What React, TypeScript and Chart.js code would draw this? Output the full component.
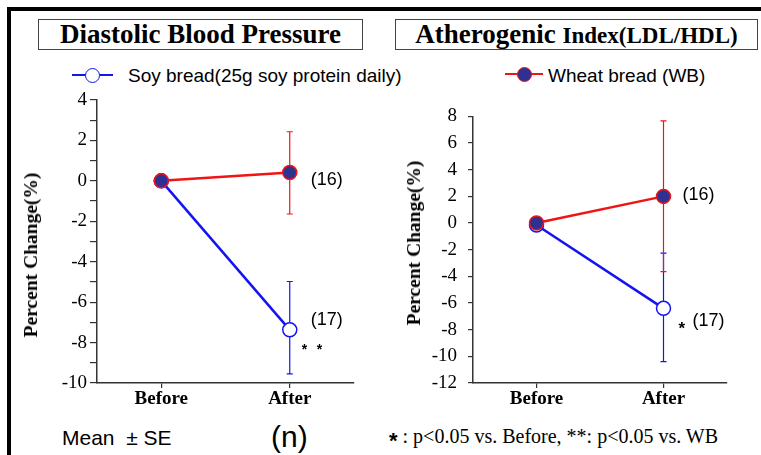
import React, { useEffect, useRef } from 'react';
import { Chart, registerables } from 'chart.js';

Chart.register(...registerables);

const SERIF = '"Liberation Serif", "Times New Roman", serif';
const SANS = '"Liberation Sans", Arial, sans-serif';

// ---- data ----
const categories = ['Before', 'After'];

// Diastolic Blood Pressure (% change)
const dbpSoy = [0, -7.37];
const dbpSoyHigh = [null, -4.98];
const dbpSoyLow = [null, -9.55];
const dbpWheat = [0, 0.41];
const dbpWheatHigh = [null, 2.43];
const dbpWheatLow = [null, -1.64];
const dbpTickRange = [-10, 4];

// Atherogenic Index (LDL/HDL) (% change)
const aiSoy = [-0.15, -6.4];
const aiSoyHigh = [null, -2.26];
const aiSoyLow = [null, -10.4];
const aiWheat = [0, 2.0];
const aiWheatHigh = [null, 7.66];
const aiWheatLow = [null, -3.65];
const aiTickRange = [-12, 8];

const nSoy = '(17)';
const nWheat = '(16)';

const SOY_COLOR = '#1414f0';
const WHEAT_COLOR = '#f01414';
const WHEAT_FILL = '#2e3192';

const errorBarPlugin = {
  id: 'errorBars',
  beforeDatasetsDraw(chart: any) {
    const { ctx } = chart;
    const x = chart.scales.x;
    const y = chart.scales.y;
    const ds = chart.data.datasets;
    for (let d = ds.length - 1; d >= 0; d--) {
      const set: any = ds[d];
      if (!set.errHigh) continue;
      ctx.save();
      ctx.strokeStyle = set.errColor;
      ctx.lineWidth = 1.2;
      set.data.forEach((_v: number, i: number) => {
        const hi = set.errHigh[i];
        const lo = set.errLow[i];
        if (hi == null || lo == null) return;
        const px = x.getPixelForValue(i);
        const py1 = y.getPixelForValue(hi);
        const py2 = y.getPixelForValue(lo);
        ctx.beginPath();
        ctx.moveTo(px, py1);
        ctx.lineTo(px, py2);
        ctx.moveTo(px - 3, py1);
        ctx.lineTo(px + 3, py1);
        ctx.moveTo(px - 3, py2);
        ctx.lineTo(px + 3, py2);
        ctx.stroke();
      });
      ctx.restore();
    }
  },
  afterDatasetsDraw(chart: any) {
    const { ctx } = chart;
    const x = chart.scales.x;
    const y = chart.scales.y;
    chart.data.datasets.forEach((set: any) => {
      (set.notes || []).forEach((n: any) => {
        const px = x.getPixelForValue(n.i);
        const py = y.getPixelForValue(set.data[n.i]);
        ctx.save();
        ctx.font = n.font;
        ctx.fillStyle = '#000';
        ctx.textAlign = 'left';
        ctx.textBaseline = 'middle';
        ctx.fillText(n.text, px + n.dx, py + n.dy);
        ctx.restore();
      });
    });
  },
};

function buildConfig(p: any) {
  return {
    type: 'line',
    data: {
      labels: categories,
      datasets: [
        {
          data: p.wheat,
          errHigh: p.wheatHigh,
          errLow: p.wheatLow,
          errColor: WHEAT_COLOR,
          notes: p.wheatNotes,
          borderColor: WHEAT_COLOR,
          borderWidth: 2.5,
          pointRadius: 7,
          pointBorderWidth: 1.5,
          pointBackgroundColor: WHEAT_FILL,
          pointBorderColor: WHEAT_COLOR,
          tension: 0,
          fill: false,
        },
        {
          data: p.soy,
          errHigh: p.soyHigh,
          errLow: p.soyLow,
          errColor: SOY_COLOR,
          notes: p.soyNotes,
          borderColor: SOY_COLOR,
          borderWidth: 2.5,
          pointRadius: 7,
          pointBorderWidth: 1.5,
          pointBackgroundColor: '#ffffff',
          pointBorderColor: SOY_COLOR,
          tension: 0,
          fill: false,
        },
      ],
    },
    options: {
      responsive: false,
      animation: false,
      events: [],
      layout: { padding: p.padding },
      plugins: { legend: { display: false }, tooltip: { enabled: false }, title: { display: false } },
      scales: {
        x: {
          type: 'category',
          offset: true,
          afterFit: (s: any) => {
            s.height = 30;
          },
          grid: { drawOnChartArea: false, drawTicks: true, tickLength: 5, offset: false, color: '#333', lineWidth: 1.2 },
          border: { display: true, color: '#333', width: 1.5 },
          ticks: { color: '#000', padding: 0, font: { family: SERIF, size: 19, weight: 'bold' } },
        },
        y: {
          type: 'linear',
          min: p.range[0],
          max: p.range[1],
          afterFit: (s: any) => {
            s.width = p.yWidth;
          },
          grid: { drawOnChartArea: false, drawTicks: true, tickLength: p.tickLength, color: '#333', lineWidth: 1.2 },
          border: { display: true, color: '#333', width: 1.5 },
          ticks: {
            stepSize: p.step,
            maxTicksLimit: 100,
            autoSkip: false,
            padding: p.tickPad,
            color: '#000',
            font: { family: SERIF, size: 19 },
            callback: (v: any) => (Number(v) % 2 === 0 ? String(v) : ''),
          },
        },
      },
    },
    plugins: [errorBarPlugin],
  };
}

function Panel({ params, left, top, width, height }: any) {
  const ref = useRef<HTMLCanvasElement>(null);
  useEffect(() => {
    const chart = new Chart(ref.current as HTMLCanvasElement, buildConfig(params) as any);
    return () => chart.destroy();
  }, []);
  return (
    <canvas
      ref={ref}
      width={width}
      height={height}
      style={{ position: 'absolute', left, top, width, height }}
    />
  );
}

const leftParams = {
  soy: dbpSoy,
  soyHigh: dbpSoyHigh,
  soyLow: dbpSoyLow,
  wheat: dbpWheat,
  wheatHigh: dbpWheatHigh,
  wheatLow: dbpWheatLow,
  range: dbpTickRange,
  step: 1,
  yWidth: 97,
  tickLength: 7,
  tickPad: 3,
  padding: { top: 15, right: 16, bottom: 7, left: 0 },
  wheatNotes: [{ i: 1, text: nWheat, dx: 21, dy: 7, font: `18px ${SANS}` }],
  soyNotes: [
    { i: 1, text: nSoy, dx: 21, dy: -10, font: `18px ${SANS}` },
    { i: 1, text: '*', dx: 12, dy: 20, font: `bold 14px ${SANS}` },
    { i: 1, text: '*', dx: 27, dy: 20, font: `bold 14px ${SANS}` },
  ],
};

const rightParams = {
  soy: aiSoy,
  soyHigh: aiSoyHigh,
  soyLow: aiSoyLow,
  wheat: aiWheat,
  wheatHigh: aiWheatHigh,
  wheatLow: aiWheatLow,
  range: aiTickRange,
  step: 2,
  yWidth: 93,
  tickLength: 5,
  tickPad: 11,
  padding: { top: 15, right: 23, bottom: 7, left: 0 },
  wheatNotes: [{ i: 1, text: nWheat, dx: 19, dy: -1, font: `18px ${SANS}` }],
  soyNotes: [
    { i: 1, text: nSoy, dx: 29, dy: 13, font: `18px ${SANS}` },
    { i: 1, text: '*', dx: 15, dy: 21, font: `bold 17px ${SANS}` },
  ],
};

const abs = (s: any) => ({ position: 'absolute' as const, ...s });

export default function App() {
  return (
    <div style={abs({ left: 0, top: 0, width: 761, height: 455, overflow: 'hidden', background: '#fff' })}>
      <div style={abs({ left: 7, top: 7, width: 820, height: 520, borderLeft: '4px solid #000', borderTop: '4px solid #000', boxSizing: 'border-box' })} />

      {/* titles */}
      <div
        style={abs({
          left: 38, top: 19, width: 325, height: 31, border: '1px solid #444', boxSizing: 'border-box',
          fontFamily: SERIF, fontWeight: 'bold', fontSize: 27, lineHeight: '29px', textAlign: 'center', color: '#000', whiteSpace: 'nowrap',
        })}
      >
        Diastolic Blood Pressure
      </div>
      <div
        style={abs({
          left: 395, top: 19, width: 363, height: 31, border: '1px solid #444', boxSizing: 'border-box',
          fontFamily: SERIF, fontWeight: 'bold', fontSize: 27, lineHeight: '29px', textAlign: 'center', color: '#000', whiteSpace: 'nowrap',
        })}
      >
        Atherogenic <span style={{ fontSize: 23 }}>Index(LDL/HDL)</span>
      </div>

      {/* legend */}
      <div style={abs({ left: 72, top: 74, width: 41, height: 2, background: SOY_COLOR })} />
      <div style={abs({ left: 84.5, top: 67.5, width: 15, height: 15, borderRadius: '50%', border: `1.5px solid ${SOY_COLOR}`, background: '#fff', boxSizing: 'border-box' })} />
      <div style={abs({ left: 128, top: 65, fontFamily: SANS, fontSize: 19, lineHeight: '22px', color: '#000', whiteSpace: 'nowrap' })}>
        Soy bread(25g soy protein daily)
      </div>
      <div style={abs({ left: 505, top: 73, width: 38, height: 2, background: WHEAT_COLOR })} />
      <div style={abs({ left: 516.5, top: 66.5, width: 15, height: 15, borderRadius: '50%', border: `1.5px solid ${WHEAT_COLOR}`, background: WHEAT_FILL, boxSizing: 'border-box' })} />
      <div style={abs({ left: 548, top: 65, fontFamily: SANS, fontSize: 19, lineHeight: '22px', color: '#000', whiteSpace: 'nowrap' })}>
        Wheat bread (WB)
      </div>

      {/* charts */}
      <Panel params={leftParams} left={0} top={85} width={370} height={335} />
      <Panel params={rightParams} left={380} top={94} width={370} height={326} />

      {/* y titles */}
      <div style={abs({ left: 31, top: 255, transform: 'translate(-50%, -50%) rotate(-90deg)', fontFamily: SERIF, fontWeight: 'bold', fontSize: 19.5, whiteSpace: 'nowrap', color: '#000' })}>
        Percent Change(%)
      </div>
      <div style={abs({ left: 414, top: 243, transform: 'translate(-50%, -50%) rotate(-90deg)', fontFamily: SERIF, fontWeight: 'bold', fontSize: 19.5, whiteSpace: 'nowrap', color: '#000' })}>
        Percent Change(%)
      </div>

      {/* footer */}
      <div style={abs({ left: 62, top: 426, fontFamily: SANS, fontSize: 21, lineHeight: '24px', whiteSpace: 'pre', color: '#000' })}>
        {'Mean  \u00B1 SE'}
      </div>
      <div style={abs({ left: 271, top: 420, fontFamily: SANS, fontSize: 30, lineHeight: '34px', whiteSpace: 'pre', color: '#000' })}>
        (n)
      </div>
      <div style={abs({ left: 389, top: 424, fontFamily: SERIF, fontSize: 20, lineHeight: '24px', whiteSpace: 'pre', color: '#000' })}>
        <span style={{ fontFamily: SANS, fontWeight: 'bold', fontSize: 22, position: 'relative', top: 5 }}>*</span>
        {' : p<0.05 vs. Before, **: p<0.05 vs. WB'}
      </div>
    </div>
  );
}
